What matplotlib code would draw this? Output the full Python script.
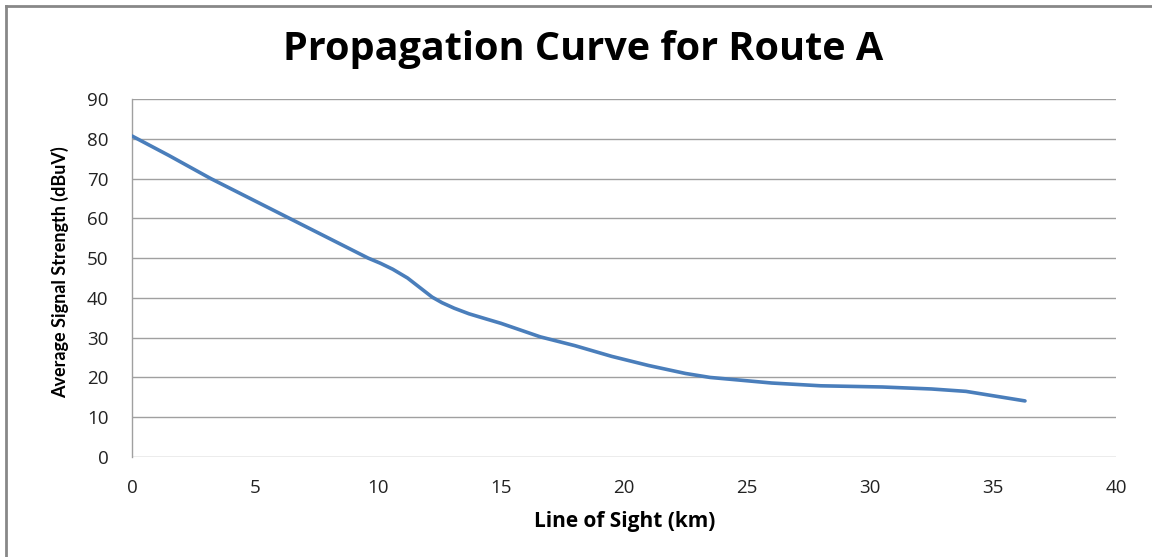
import matplotlib
matplotlib.use("Agg")
import matplotlib.pyplot as plt
from matplotlib.lines import Line2D

# Data
distance_km = [0, 1.5, 3.2, 4.8, 6.4, 8.0, 9.6, 10.1, 10.6, 11.2, 11.7, 12.2, 12.6, 13.1, 13.7,
               14.4, 15.0, 16.6, 18.0, 19.5, 21.0, 22.5, 23.5, 24.4, 26.0, 28.0, 30.5, 32.5,
               33.9, 35.0, 36.3]
signal_dbuv = [80.7, 75.8, 70.0, 65.0, 60.0, 55.0, 50.0, 48.7, 47.2, 45.0, 42.6, 40.2, 38.8,
               37.4, 36.0, 34.7, 33.6, 30.2, 28.0, 25.3, 23.0, 21.0, 20.0, 19.5, 18.6, 17.9,
               17.6, 17.1, 16.5, 15.4, 14.1]
x_ticks = [0, 5, 10, 15, 20, 25, 30, 35, 40]
y_ticks = [0, 10, 20, 30, 40, 50, 60, 70, 80, 90]

title = "Propagation Curve for Route A"
xlabel = "Line of Sight (km)"
ylabel = "Average Signal Strength (dBuV)"

plt.rcParams['font.family'] = ['Open Sans', 'DejaVu Sans']

W, H = 1152, 557
fig = plt.figure(figsize=(W / 100, H / 100), dpi=100)
fig.patch.set_facecolor('white')

left, right, top, bottom = 132, 1116, 99, 457
ax = fig.add_axes([left / W, 1 - bottom / H, (right - left) / W, (bottom - top) / H])

ax.plot(distance_km, signal_dbuv, color='#4A7EBB', lw=2.6, solid_capstyle='round',
        solid_joinstyle='round', zorder=3)

ax.set_xlim(0, 40)
ax.set_ylim(0, 90)
ax.set_xticks(x_ticks)
ax.set_yticks(y_ticks)
ax.yaxis.grid(True, color='#A0A0A0', lw=1.0)
ax.set_axisbelow(True)
for s in ['top', 'right', 'bottom']:
    ax.spines[s].set_visible(False)
ax.spines['left'].set_color('#A0A0A0')
ax.spines['left'].set_linewidth(1.0)
ax.tick_params(axis='both', length=0, labelsize=13.5, colors='#222222')
ax.tick_params(axis='x', pad=16)
ax.tick_params(axis='y', pad=17)

ax.set_xlabel(xlabel, fontsize=15, fontweight='bold', va='center',
              family=['Open Sans', 'DejaVu Sans'])
ax.xaxis.set_label_coords((625 - left) / (right - left), -(521 - bottom) / (bottom - top))
ax.set_ylabel(ylabel, fontsize=13, fontweight='bold', va='center',
              family=['Lato', 'DejaVu Sans'])
ax.yaxis.set_label_coords(-(left - 60) / (right - left), (bottom - 272) / (bottom - top))

fig.text(583 / W, 1 - 60 / H, title, ha='center', va='baseline', fontsize=28.5,
         fontweight='bold', color='black')

# outer frame (left and top edges visible)
fig.add_artist(Line2D([6 / W, 6 / W], [0, 1 - 6 / H], transform=fig.transFigure,
                      color='#888888', lw=2))
fig.add_artist(Line2D([6 / W, 1], [1 - 6 / H, 1 - 6 / H], transform=fig.transFigure,
                      color='#888888', lw=2))

fig.savefig('out.png', dpi=100)
